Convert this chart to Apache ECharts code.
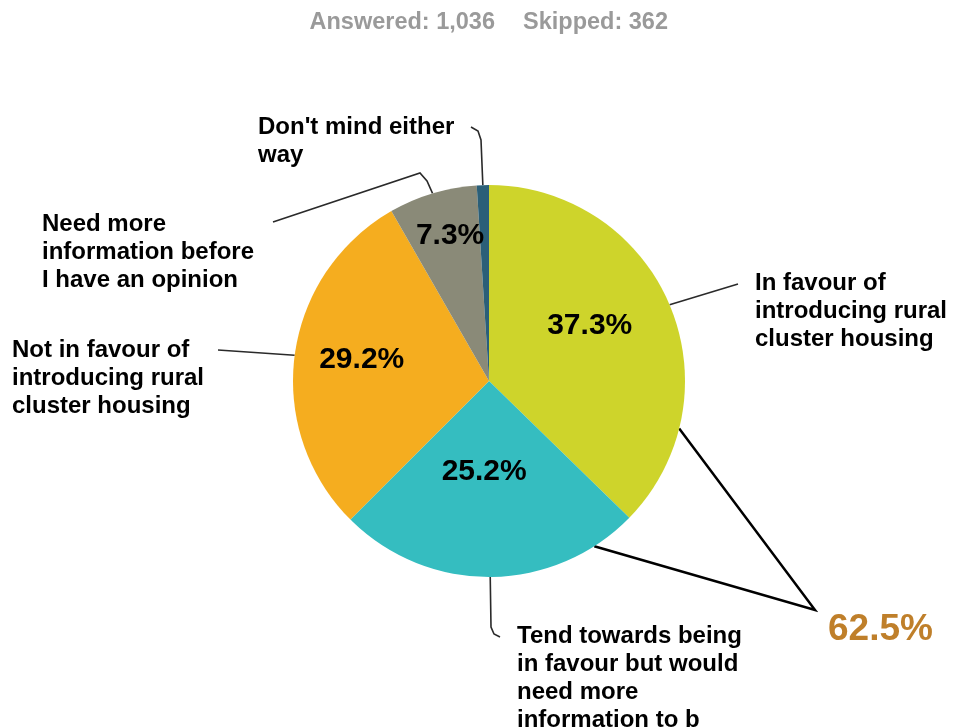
<!DOCTYPE html>
<html>
<head>
<meta charset="utf-8">
<script src="https://cdn.jsdelivr.net/npm/echarts@6/dist/echarts.min.js"></script>
<style>
  html, body { margin: 0; padding: 0; background: #ffffff; }
  #chart { width: 953px; height: 727px; }
</style>
</head>
<body>
<div id="chart"></div>
<script>
// Survey responses (percent of answered)
const categories = [
  'In favour of\nintroducing rural\ncluster housing',
  'Tend towards being\nin favour but would\nneed more\ninformation to b',
  'Not in favour of\nintroducing rural\ncluster housing',
  'Need more\ninformation before\nI have an opinion',
  "Don't mind either\nway"
];
const values = [37.3, 25.2, 29.2, 7.3, 1.0];
const colors = ['#CED42B', '#35BDC0', '#F5AD1F', '#8A8A78', '#2B5F78'];
const answered = 1036;
const skipped = 362;
// slices grouped together by the bracket annotation
const favourGroup = [0, 1];

// ---- layout ----
const CX = 489, CY = 381, R = 196;
const FONT = '"Liberation Sans", Arial, Helvetica, sans-serif';
// outer label boxes (top-left) and the leader path beyond the slice edge
const outerLayout = [
  { x: 755, y: 269, path: [[738, 284]] },
  { x: 517, y: 622, path: [[491, 627], [494, 634], [500, 637]] },
  { x: 12,  y: 336, path: [[218, 350]] },
  { x: 42,  y: 210, path: [[427, 181], [420, 173], [273, 222]] },
  { x: 258, y: 113, path: [[481, 140], [478, 131], [471, 127]] }
];
// percentage labels: distance from the centre and angular shift (deg) from the slice middle
const innerPlace = [[115, -6], [91, 3.4], [129, 1.8], [150, 1.7], [150, 0]];
// bracket: rim angles (deg from 12 o'clock) on the grouped slices and the apex
const bracketAngles = [104, 147.5];
const bracketApex = [815, 610];

const total = values.reduce((a, b) => a + b, 0);
const midAngles = [];
let acc = 0;
values.forEach(v => { midAngles.push((acc + v / 2) / total * 2 * Math.PI); acc += v; });
const rimPoint = (ang, r) => [CX + r * Math.sin(ang), CY - r * Math.cos(ang)];
const DEG = Math.PI / 180;

const data = categories.map((name, i) => ({ name, value: values[i], itemStyle: { color: colors[i] } }));

const groupSum = favourGroup.reduce((s, i) => s + values[i], 0);

const chart = echarts.init(document.getElementById('chart'), null, { renderer: 'canvas' });
chart.setOption({
  animation: false,
  backgroundColor: '#ffffff',
  series: [
    {
      type: 'pie',
      center: [CX, CY],
      radius: R,
      startAngle: 90,
      clockwise: true,
      silent: true,
      data: data,
      itemStyle: { borderWidth: 0 },
      label: {
        show: true,
        position: 'inside',
        formatter: p => (p.value >= 5 ? p.value.toFixed(1) + '%' : ''),
        fontFamily: FONT,
        fontWeight: 'bold',
        fontSize: 30,
        color: '#000000'
      },
      labelLine: { show: false },
      labelLayout: params => {
        const i = params.dataIndex;
        const pl = innerPlace[i];
        const p = rimPoint(midAngles[i] + pl[1] * DEG, pl[0]);
        return { x: p[0], y: p[1], align: 'center', verticalAlign: 'middle' };
      }
    },
    {
      type: 'pie',
      center: [CX, CY],
      radius: R,
      startAngle: 90,
      clockwise: true,
      silent: true,
      data: categories.map((name, i) => ({ name, value: values[i] })),
      itemStyle: { color: 'rgba(0,0,0,0)', borderWidth: 0 },
      label: {
        show: true,
        position: 'outside',
        formatter: '{b}',
        fontFamily: FONT,
        fontWeight: 'bold',
        fontSize: 24,
        lineHeight: 28,
        color: '#000000'
      },
      labelLine: {
        show: true,
        length: 10,
        length2: 10,
        smooth: false,
        lineStyle: { color: '#2a2a2a', width: 1.6 }
      },
      labelLayout: params => {
        const i = params.dataIndex;
        const L = outerLayout[i];
        const start = rimPoint(midAngles[i], R);
        return {
          x: L.x, y: L.y, align: 'left', verticalAlign: 'top',
          labelLinePoints: [start].concat(L.path)
        };
      }
    }
  ],
  graphic: [
    {
      type: 'text', x: 495, y: 23, silent: true,
      style: {
        text: 'Answered: ' + answered.toLocaleString('en-US'),
        font: 'bold 23.5px ' + FONT, fill: '#9a9a9a', align: 'right', verticalAlign: 'middle'
      }
    },
    {
      type: 'text', x: 523, y: 23, silent: true,
      style: {
        text: 'Skipped: ' + skipped.toLocaleString('en-US'),
        font: 'bold 23.5px ' + FONT, fill: '#9a9a9a', align: 'left', verticalAlign: 'middle'
      }
    },
    {
      type: 'polyline', silent: true,
      shape: {
        points: [
          rimPoint(bracketAngles[0] * DEG, R),
          bracketApex,
          rimPoint(bracketAngles[1] * DEG, R)
        ]
      },
      style: { stroke: '#000000', lineWidth: 2.5, fill: null }
    },
    {
      type: 'text', x: 828, y: 630, silent: true,
      style: {
        text: groupSum.toFixed(1) + '%',
        font: 'bold 37px ' + FONT, fill: '#BF7F2A', align: 'left', verticalAlign: 'middle'
      }
    }
  ]
});
</script>
</body>
</html>
